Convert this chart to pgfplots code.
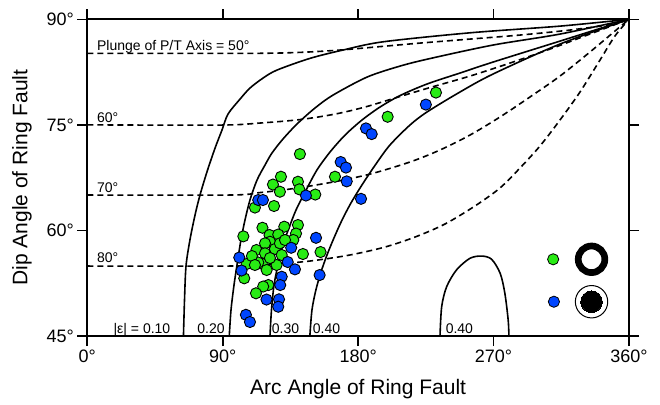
\documentclass[border=0pt]{standalone}
\usepackage{fontspec}
\setmainfont{Liberation Sans}
\usepackage{pgfplots}
\pgfplotsset{compat=1.18}
\definecolor{ptgreen}{RGB}{40,235,20}
\definecolor{ptblue}{RGB}{0,70,255}
\begin{document}
\begin{tikzpicture}
\begin{axis}[
  name=main,
  at={(0,0)}, anchor=south west,
  scale only axis, width=541.7pt, height=316.7pt,
  xmin=0, xmax=360, ymin=45, ymax=90,
  xtick={0,90,180,270,360}, ytick={45,60,75,90},
  xticklabels={0°,90°,180°,270°,360°},
  yticklabels={45°,60°,75°,90°},
  xtick pos=both, ytick pos=both,
  tick align=outside, major tick length=10pt,
  tick style={line width=1.6pt, black},
  axis line style={line width=1.8pt},
  ticklabel style={font=\fontsize{18}{21}\selectfont},
  xlabel={Arc Angle of Ring Fault}, ylabel={Dip Angle of Ring Fault},
  label style={font=\fontsize{21}{24}\selectfont},
  xlabel style={at={(axis description cs:0.5,-0.166)}, anchor=center},
  ylabel style={at={(axis description cs:-0.1205,0.5)}, anchor=center},
  clip=true,
]
% |epsilon| contours (solid)
\addplot[black, line width=1.6pt, smooth, tension=0.5] coordinates {
(63.9,45) (64.6,50.11) (65.6,54.94) (68.2,58.64) (71.6,62.19) (74.9,65.03) (79.5,68.3) (84.9,71.7) (89.5,74.26) (93.5,76.53) (101.5,78.66) (108.1,80.23) (116.8,81.65) (126.0,82.78) (148.0,84.45) (169.9,85.63) (196.5,86.8) (254.3,88.08) (314.1,89.03) (360,90)};
\addplot[black, line width=1.6pt, smooth, tension=0.5] coordinates {
(94.35,45) (95.5,48.69) (97.5,52.24) (99.5,55.09) (102.1,58.64) (104.8,61.48) (108.1,64.32) (112.8,67.16) (118.1,69.29) (122.7,70.99) (130.0,72.98) (139.3,75.11) (151.3,77.39) (163.3,79.23) (185.9,81.79) (207.8,83.35) (227.7,84.42) (269.6,86.34) (314.1,87.9) (360,90)};
\addplot[black, line width=1.6pt, smooth, tension=0.5] coordinates {
(121.4,45) (122.4,48.69) (124.1,52.24) (126.7,55.09) (130.0,57.93) (134.0,60.34) (138.7,62.9) (144.7,65.45) (152.6,68.58) (161.3,71.14) (171.3,73.55) (182.5,75.68) (194.5,77.53) (207.8,79.16) (225.7,80.8) (247.6,82.36) (269.6,83.92) (314.1,86.9) (360,90)};
\addplot[black, line width=1.6pt, smooth, tension=0.5] coordinates {
(147.9,45) (149.3,48.69) (151.9,51.53) (155.3,54.09) (159.3,56.51) (163.9,58.92) (169.3,61.48) (175.2,63.89) (182.5,66.45) (191.8,69.43) (201.1,72.13) (214.4,74.97) (225.7,76.82) (247.6,79.66) (269.6,82.22) (314.1,86.48) (360,90)};
\addplot[black, line width=1.6pt, smooth, tension=0.5] coordinates {
(234.4,45) (235.5,49.16) (238.8,52.0) (245.4,54.4) (254.3,56.04) (262.1,56.36) (268.7,55.9) (274.4,53.9) (277.5,51.07) (279.7,47.27) (280.2,45)};
% plunge contours (dashed)
\addplot[black, line width=1.6pt, dash pattern=on 6pt off 4pt, smooth, tension=0.5] coordinates {
(0,85.16) (108.1,85.16) (141.3,85.3) (167.9,85.63) (194.5,86.12) (221.1,86.62) (254.3,87.19) (287.5,87.76) (320.7,88.47) (347.3,89.25) (360,90)};
\addplot[black, line width=1.6pt, dash pattern=on 6pt off 4pt, smooth, tension=0.5] coordinates {
(0,75) (88.2,74.97) (114.8,75.26) (141.3,75.75) (164.6,76.53) (184.5,77.53) (204.4,78.81) (227.7,80.3) (254.3,81.93) (280.9,83.78) (307.5,85.77) (334.0,87.9) (360,90)};
\addplot[black, line width=1.6pt, dash pattern=on 6pt off 4pt, smooth, tension=0.5] coordinates {
(0,65.03) (94.8,65.03) (114.8,65.38) (134.7,65.88) (161.3,66.8) (187.8,68.0) (214.4,69.72) (234.3,71.42) (254.3,73.55) (274.2,76.11) (294.1,78.95) (314.1,81.93) (334.0,85.34) (350.6,88.32) (360,90)};
\addplot[black, line width=1.6pt, dash pattern=on 6pt off 4pt, smooth, tension=0.5] coordinates {
(0,54.94) (94.8,54.94) (121.4,55.16) (147.9,55.65) (174.5,56.51) (197.8,57.64) (217.8,59.06) (237.7,60.91) (257.6,63.47) (274.2,66.02) (287.5,68.86) (300.8,71.99) (314.1,75.68) (327.4,79.66) (340.7,84.2) (350.6,87.61) (360,90)};
% annotations
\node[anchor=base west, font=\fontsize{14}{16}\selectfont, inner sep=0pt] at (axis cs:6.4,85.55) {Plunge of P/T Axis = 50°};
\node[anchor=base west, font=\fontsize{14}{16}\selectfont, inner sep=0pt] at (axis cs:6.4,75.35) {60°};
\node[anchor=base west, font=\fontsize{14}{16}\selectfont, inner sep=0pt] at (axis cs:6.4,65.4) {70°};
\node[anchor=base west, font=\fontsize{14}{16}\selectfont, inner sep=0pt] at (axis cs:6.4,55.4) {80°};
\node[anchor=base west, font=\fontsize{14}{16}\selectfont, inner sep=0pt] at (axis cs:17.3,45.4) {|ε| = 0.10};
\node[anchor=base west, font=\fontsize{14}{16}\selectfont, inner sep=0pt] at (axis cs:73.0,45.4) {0.20};
\node[anchor=base west, font=\fontsize{14}{16}\selectfont, inner sep=0pt] at (axis cs:122.5,45.4) {0.30};
\node[anchor=base west, font=\fontsize{14}{16}\selectfont, inner sep=0pt] at (axis cs:149.8,45.4) {0.40};
\node[anchor=base west, font=\fontsize{14}{16}\selectfont, inner sep=0pt] at (axis cs:238.1,45.4) {0.40};
% green events
\addplot[only marks, mark=*, mark size=5.6pt, mark options={fill=ptgreen, draw=black, line width=0.9pt}] coordinates {
(231.7,79.59) (199.6,76.15) (141.3,70.85) (128.7,67.63) (123.4,66.52) (128.0,65.5) (140.0,66.92) (140.9,65.84) (151.5,65.1) (164.6,67.63)
(111.4,63.25) (124.1,63.47) (103.7,59.16) (116.4,60.38) (130.9,60.53) (140.0,60.77) (138.7,59.56) (121.1,59.35) (126.9,59.42) (155.0,56.93)
(143.3,56.65) (105.9,55.23) (104.3,53.2) (112.4,57.22) (121.4,58.39) (124.7,57.36) (116.5,55.23) (113.6,55.44) (119.2,54.38) (125.8,55.09)
(129.2,56.51) (136.9,58.64) (128.0,58.17) (118.1,58.17) (120.3,52.24) (116.9,52.03) (112.1,51.07) (118.1,56.75) (109.4,56.36) (131.4,58.64)
(121.4,56.08) (111.4,55.09)};
% blue events
\addplot[only marks, mark=*, mark size=5.6pt, mark options={fill=ptblue, draw=black, line width=0.9pt}] coordinates {
(225.0,77.88) (185.2,74.5) (189.0,73.69) (168.4,69.72) (171.9,68.93) (172.4,66.97) (181.9,64.49) (145.3,64.96) (113.6,64.32) (116.7,64.32)
(152.0,58.95) (135.5,57.54) (154.4,53.66) (101.0,56.15) (102.5,54.3) (133.2,55.51) (138.0,54.47) (129.2,53.42) (128.2,52.24) (119.1,50.18)
(127.4,50.21) (126.9,49.16) (105.4,48.01) (108.1,46.99)};
% legend symbols
\addplot[only marks, mark=*, mark size=5.6pt, mark options={fill=ptgreen, draw=black, line width=0.8pt}] coordinates {(309.6,55.9)};
\addplot[only marks, mark=*, mark size=5.6pt, mark options={fill=ptblue, draw=black, line width=0.8pt}] coordinates {(310.1,49.87)};
\addplot[only marks, mark=*, mark size=13.3pt, mark options={fill=white, draw=black, line width=6.7pt}] coordinates {(335.1,55.9)};
\addplot[only marks, mark=*, mark size=16.2pt, mark options={fill=white, draw=black, line width=1pt}] coordinates {(335.1,49.87)};
\addplot[only marks, mark=*, mark size=10.8pt, mark options={fill=black, draw=black, line width=0pt}] coordinates {(335.1,49.87)};
\end{axis}
% ticks of the top edge
\foreach \xx in {0,135.425,270.85,406.275,541.7} {
  \draw[line width=1.6pt, black] (\xx pt,316.7pt) -- (\xx pt,326.7pt);
}
\pgfresetboundingbox
\path (-87.3pt,-68pt) rectangle (572.7pt,336pt);
\end{tikzpicture}
\end{document}
